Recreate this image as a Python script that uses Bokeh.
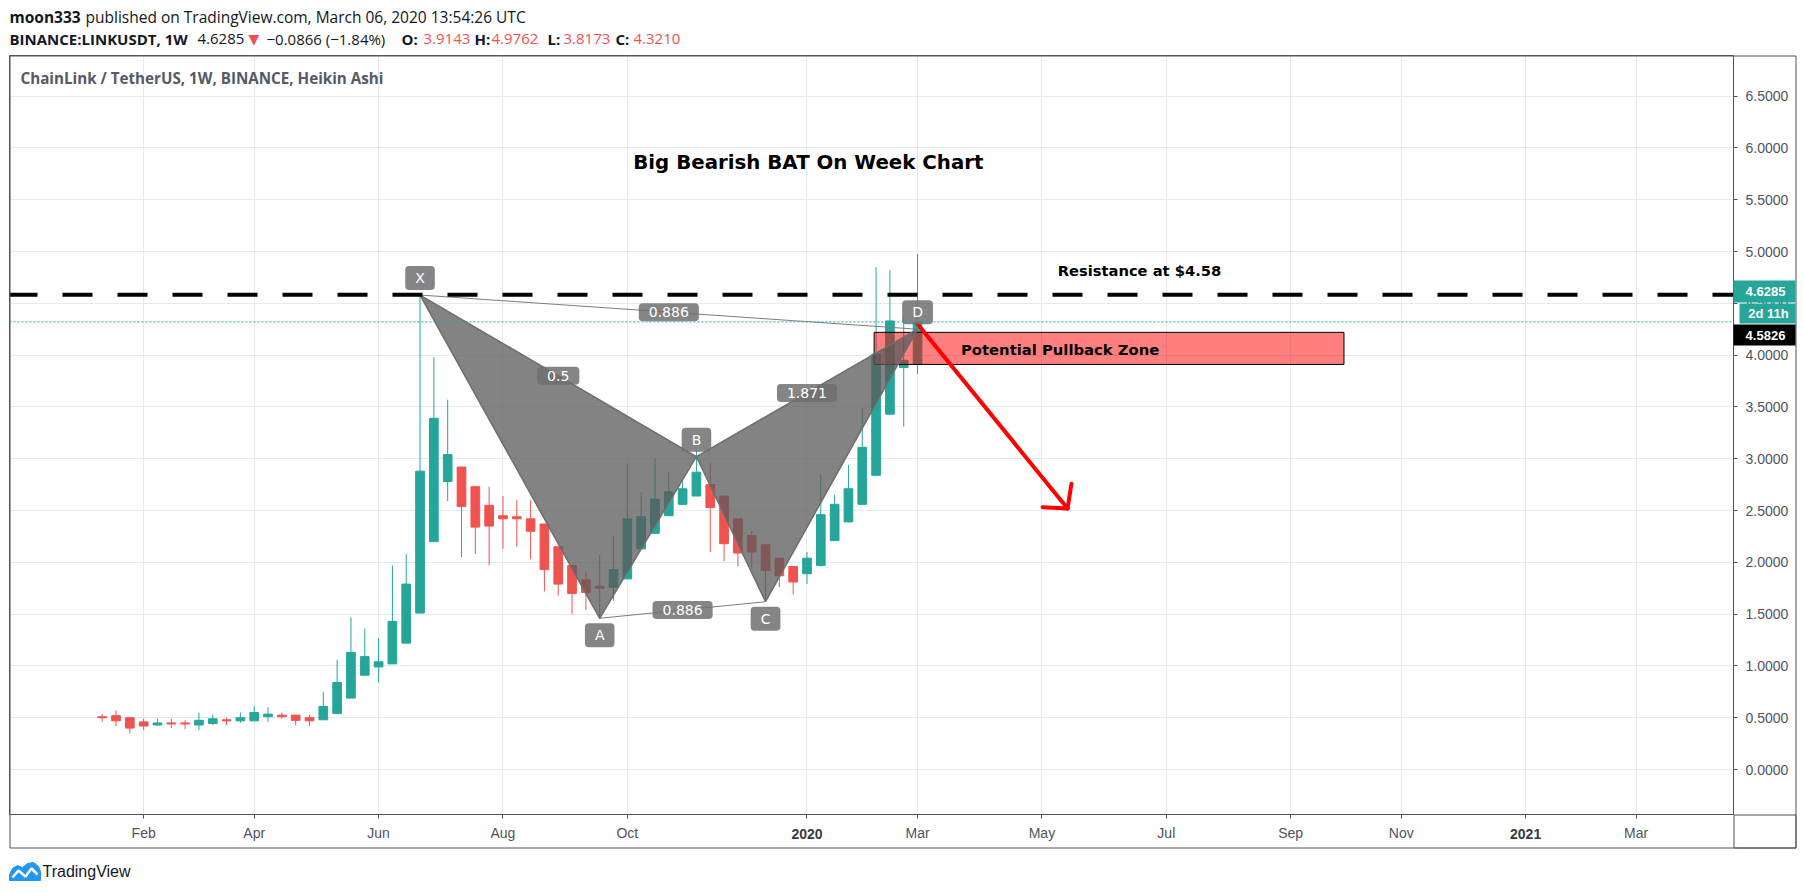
import math
import pandas as pd
from bokeh.plotting import figure
from bokeh.models import (ColumnDataSource, FixedTicker, PrintfTickFormatter,
                          Span, Label, Range1d)
from bokeh.embed import file_html
from bokeh.resources import INLINE

# ---------------- data ----------------
first_week = "2019-01-14"          # first weekly Heikin Ashi bar
n_weeks = 60

ha_open = [0.51, 0.52, 0.50, 0.46, 0.43, 0.45, 0.45, 0.43, 0.445, 0.48,
           0.47, 0.47, 0.51, 0.525, 0.525, 0.50, 0.48, 0.54, 0.69, 0.91,
           0.99, 1.02, 1.22, 1.51, 2.20, 2.78, 2.92, 2.73, 2.55, 2.45,
           2.44, 2.42, 2.37, 2.15, 1.97, 1.83, 1.77, 1.76, 1.84, 2.13,
           2.28, 2.45, 2.56, 2.64, 2.75, 2.64, 2.42, 2.26, 2.17, 2.04,
           1.96, 1.89, 1.97, 2.21, 2.39, 2.56, 2.84, 3.43, 3.88, 3.9143]
ha_high = [0.535, 0.57, 0.50, 0.49, 0.49, 0.49, 0.475, 0.55, 0.53, 0.50,
           0.55, 0.61, 0.60, 0.55, 0.53, 0.53, 0.75, 1.06, 1.47, 1.36,
           1.27, 1.97, 2.08, 4.58, 3.98, 3.57, 2.92, 2.73, 2.73, 2.64,
           2.60, 2.60, 2.37, 2.15, 1.97, 1.91, 2.07, 2.26, 2.95, 2.68,
           3.00, 2.87, 2.80, 3.08, 2.96, 2.64, 2.42, 2.30, 2.17, 2.04,
           1.96, 2.10, 2.85, 2.65, 2.94, 3.49, 4.85, 4.82, 4.37, 4.9762]
ha_low = [0.46, 0.42, 0.35, 0.38, 0.42, 0.40, 0.39, 0.38, 0.43, 0.43,
          0.45, 0.47, 0.46, 0.49, 0.43, 0.42, 0.48, 0.54, 0.69, 0.91,
          0.84, 1.02, 1.22, 1.51, 2.20, 2.59, 2.05, 2.08, 1.97, 2.13,
          2.15, 2.03, 1.72, 1.68, 1.50, 1.54, 1.46, 1.63, 1.84, 2.13,
          2.28, 2.45, 2.56, 2.64, 2.10, 2.01, 1.96, 1.95, 1.62, 1.76,
          1.69, 1.79, 1.96, 2.21, 2.39, 2.56, 2.84, 3.43, 3.31, 3.8173]
ha_close = [0.50, 0.47, 0.40, 0.42, 0.45, 0.44, 0.44, 0.475, 0.49, 0.47,
            0.50, 0.55, 0.535, 0.51, 0.475, 0.47, 0.61, 0.84, 1.13, 1.09,
            1.04, 1.43, 1.79, 2.88, 3.39, 3.04, 2.54, 2.34, 2.35, 2.42,
            2.42, 2.30, 1.93, 1.79, 1.70, 1.71, 1.75, 1.93, 2.42, 2.44,
            2.61, 2.68, 2.71, 2.87, 2.53, 2.18, 2.09, 2.10, 1.92, 1.87,
            1.81, 2.04, 2.46, 2.56, 2.71, 3.11, 4.01, 4.33, 3.95, 4.3210]

tick_dates = ["2019-02-04", "2019-04-01", "2019-06-03", "2019-08-05", "2019-10-07",
              "2020-01-06", "2020-03-02", "2020-05-04", "2020-07-06", "2020-09-07",
              "2020-11-02", "2021-01-04", "2021-03-01"]
tick_labels = ["Feb", "Apr", "Jun", "Aug", "Oct", "2020", "Mar", "May", "Jul",
               "Sep", "Nov", "2021", "Mar"]
year_labels = ["2020", "2021"]
price_ticks = [0.0, 0.5, 1.0, 1.5, 2.0, 2.5, 3.0, 3.5, 4.0, 4.5, 5.0, 5.5, 6.0, 6.5]

pattern_names = ["X", "A", "B", "C", "D"]
pattern_dates = ["2019-06-24", "2019-09-23", "2019-11-11", "2019-12-16", "2020-03-02"]
pattern_prices = [4.58, 1.46, 3.02, 1.62, 4.25]
pattern_label_side = [1, -1, 1, -1, 1]
ratio_pairs = [("X", "B"), ("B", "D"), ("X", "D"), ("A", "C")]
ratio_texts = ["0.5", "1.871", "0.886", "0.886"]

resistance_price = 4.5826
last_close = 4.3210
last_price_text = "4.6285"
countdown_text = "2d 11h"

zone_dates = ["2020-02-09", "2020-10-04"]
zone_prices = [3.91, 4.22]
arrow_dates = ["2020-03-02", "2020-05-17"]
arrow_prices = [4.30, 2.52]

title_text = "Big Bearish BAT On Week Chart"
title_at = ("2019-10-10", 5.86)
resist_text = "Resistance at $4.58"
resist_at = ("2020-05-12", 4.82)
zone_text = "Potential Pullback Zone"
zone_text_at = ("2020-03-24", 4.054)

header_user = "moon333"
header_rest = "published on TradingView.com, March 06, 2020 13:54:26 UTC"
header_line2 = [("BINANCE:LINKUSDT, 1W", "bold", "ink"), ("4.6285", "normal", "ink"),
                ("\u25bc", "normal", "red"), ("\u22120.0866 (\u22121.84%)", "normal", "ink"),
                ("O:", "bold", "ink"), ("3.9143", "normal", "red"),
                ("H:", "bold", "ink"), ("4.9762", "normal", "red"),
                ("L:", "bold", "ink"), ("3.8173", "normal", "red"),
                ("C:", "bold", "ink"), ("4.3210", "normal", "red")]
header_line2_x = [9, 197, 248, 266, 401, 423, 474, 491, 547, 563, 615, 633]
symbol_text = "ChainLink / TetherUS, 1W, BINANCE, Heikin Ashi"
brand_text = "TradingView"

# ---------------- styles / layout (page pixels) ----------------
TEAL = "#26a69a"
RED = "#ef5350"
INK = "#131722"
GRID = "#e3ebf1"
AXIS = "#50535e"
FL, FT = 9, 55              # frame left / top on the page
FW, FH = 1724, 759          # frame size
X_LO, X_HI = -46.95, 826.3
Y_LO, Y_HI = -0.434, 6.892
PAGE_W, PAGE_H = 1804, 894

t0 = pd.Timestamp(first_week)


def day(s):
    return (pd.Timestamp(s) - t0) / pd.Timedelta(days=1)


week_x = [7.0 * i for i in range(n_weeks)]
colors = [TEAL if c >= o else RED for o, c in zip(ha_open, ha_close)]
src = ColumnDataSource(dict(
    x=week_x, o=ha_open, h=ha_high, l=ha_low, c=ha_close,
    top=[max(o, c) for o, c in zip(ha_open, ha_close)],
    bottom=[min(o, c) for o, c in zip(ha_open, ha_close)],
    color=colors))

p = figure(frame_width=FW, frame_height=FH,
           x_range=Range1d(X_LO, X_HI), y_range=Range1d(Y_LO, Y_HI),
           output_backend="svg", toolbar_location=None, y_axis_location="right",
           min_border_left=FL, min_border_right=62, min_border_top=FT, min_border_bottom=33,
           background_fill_color="white", border_fill_color="white",
           outline_line_color=AXIS, outline_line_width=1)

# axes
tick_x = [day(d) for d in tick_dates]
xa = p.xaxis[0]
xa.ticker = FixedTicker(ticks=tick_x, minor_ticks=[])
xa.major_label_overrides = {t: ("" if lab in year_labels else lab)
                            for t, lab in zip(tick_x, tick_labels)}
xa.major_tick_out = 4
xa.major_tick_in = 0
xa.minor_tick_out = 0
xa.minor_tick_in = 0
xa.axis_line_color = AXIS
xa.major_tick_line_color = AXIS
xa.major_label_text_font = "Liberation Sans"
xa.major_label_text_font_size = "14px"
xa.major_label_text_color = AXIS
xa.major_label_standoff = 6

ya = p.yaxis[0]
ya.ticker = FixedTicker(ticks=price_ticks, minor_ticks=[])
ya.formatter = PrintfTickFormatter(format="%.4f")
ya.major_tick_out = 4
ya.major_tick_in = 0
ya.minor_tick_out = 0
ya.minor_tick_in = 0
ya.axis_line_color = AXIS
ya.major_tick_line_color = AXIS
ya.major_label_text_font = "Liberation Sans"
ya.major_label_text_font_size = "14px"
ya.major_label_text_color = AXIS
ya.major_label_standoff = 8

p.xgrid.grid_line_color = GRID
p.ygrid.grid_line_color = GRID

# candles
p.segment(x0="x", y0="l", x1="x", y1="h", source=src, line_color="color", line_width=1)
p.vbar(x="x", width=4.4, top="top", bottom="bottom", source=src,
       fill_color="color", line_color="color", line_width=1)

# pullback zone
p.quad(left=[day(zone_dates[0])], right=[day(zone_dates[1])],
       bottom=[zone_prices[0]], top=[zone_prices[1]],
       fill_color="#ff0000", fill_alpha=0.5, line_color="#000000", line_width=1)

# XABCD pattern
pt = {n: (day(d), v) for n, d, v in zip(pattern_names, pattern_dates, pattern_prices)}
for tri in (("X", "A", "B"), ("B", "C", "D")):
    p.patch([pt[n][0] for n in tri], [pt[n][1] for n in tri],
            fill_color="#5a5a5a", fill_alpha=0.75, line_color="#6e6e6e", line_width=1.5)
for a, b in (("X", "D"), ("A", "C")):
    p.line([pt[a][0], pt[b][0]], [pt[a][1], pt[b][1]], line_color="#7d7d7d", line_width=1)

label_style = dict(text_font="DejaVu Sans", text_font_size="14px", text_color="white",
                   text_align="center", text_baseline="middle",
                   background_fill_color="#707070", background_fill_alpha=0.85,
                   padding=(10, 4), border_radius=4)
for n, side in zip(pattern_names, pattern_label_side):
    p.add_layout(Label(x=pt[n][0], y=pt[n][1], y_offset=17 * side, text=n, **label_style))
for (a, b), txt in zip(ratio_pairs, ratio_texts):
    p.add_layout(Label(x=(pt[a][0] + pt[b][0]) / 2, y=(pt[a][1] + pt[b][1]) / 2,
                       text=txt, **label_style))

# horizontal lines
p.add_layout(Span(location=last_close, dimension="width", line_color=TEAL,
                  line_width=1, line_dash="2 2"))
p.add_layout(Span(location=resistance_price, dimension="width", line_color="black",
                  line_width=4, line_dash="30 25", line_dash_offset=2))

# red arrow
ppx = FW / (X_HI - X_LO)
ppy = FH / (Y_HI - Y_LO)
ax0, ax1 = day(arrow_dates[0]), day(arrow_dates[1])
ay0, ay1 = arrow_prices
ang = math.atan2((ay1 - ay0) * ppy, (ax1 - ax0) * ppx)
sx0, sy0, sx1, sy1 = [ax0], [ay0], [ax1], [ay1]
for s in (1, -1):
    a = ang + math.pi + s * math.radians(48)
    sx0.append(ax1)
    sy0.append(ay1)
    sx1.append(ax1 + 25 * math.cos(a) / ppx)
    sy1.append(ay1 + 25 * math.sin(a) / ppy)
p.segment(x0=sx0, y0=sy0, x1=sx1, y1=sy1, line_color="#ff0000", line_width=4,
          line_cap="round")

# chart texts
p.add_layout(Label(x=day(title_at[0]), y=title_at[1], text=title_text,
                   text_font="DejaVu Sans", text_font_style="bold", text_font_size="19.8px",
                   text_color="#000000", text_baseline="middle"))
p.add_layout(Label(x=day(resist_at[0]), y=resist_at[1], text=resist_text,
                   text_font="DejaVu Sans", text_font_style="bold", text_font_size="14.7px",
                   text_color="#000000", text_baseline="middle"))
p.add_layout(Label(x=day(zone_text_at[0]), y=zone_text_at[1], text=zone_text,
                   text_font="DejaVu Sans", text_font_style="bold", text_font_size="14.8px",
                   text_color="#000000", text_baseline="middle"))
p.add_layout(Label(x=20 - FL, y=FH - (77 - FT), x_units="screen", y_units="screen",
                   text=symbol_text, text_font="Open Sans", text_font_size="15.2px",
                   text_font_style="bold", text_color="#555a66", text_baseline="middle"))

# ---------- transparent overlay figure for everything outside the frame ----------
ov = figure(width=PAGE_W, height=PAGE_H, x_range=Range1d(0, PAGE_W), y_range=Range1d(PAGE_H, 0),
            output_backend="svg", toolbar_location=None, x_axis_location=None,
            y_axis_location=None, min_border=0, outline_line_color=None,
            background_fill_alpha=0, border_fill_alpha=0)
ov.title.visible = False
ov.grid.visible = False
ov.styles = {"position": "absolute", "left": "0px", "top": "0px", "z-index": "10",
             "pointer-events": "none"}


def put(px, py, text, **kw):
    kw.setdefault("text_baseline", "middle")
    ov.add_layout(Label(x=px, y=py, text=text, **kw))


put(9, 16, header_user, text_font="Open Sans", text_font_size="15.5px",
    text_font_style="bold", text_color=INK)
put(85, 16, header_rest, text_font="Open Sans", text_font_size="15.5px", text_color=INK)
for px, (txt, style, col) in zip(header_line2_x, header_line2):
    if txt == "\u25bc":
        put(px, 38, txt, text_font="DejaVu Sans", text_font_size="14px", text_color=RED)
    else:
        put(px, 38, txt, text_font="Open Sans", text_font_size="15px", text_font_style=style,
            text_color=(RED if col == "red" else INK))

# outer box and the corner cell below the price scale
ov.quad(left=[FL + 0.5, FL + FW + 0.5], right=[1795.5, 1795.5],
        top=[FT + 0.5, FT + FH + 0.5], bottom=[847.5, 847.5],
        fill_alpha=0, line_color=AXIS, line_width=1)

# bold year labels on the time axis
for t, lab in zip(tick_x, tick_labels):
    if lab in year_labels:
        put(FL + (t - X_LO) * ppx, 833, lab, text_align="center", text_font="Liberation Sans",
            text_font_size="14px", text_font_style="bold", text_color="#363a45")

# price tags on the price scale
tags = [(last_price_text, TEAL, 1733, 280, 302),
        (countdown_text, TEAL, 1739, 303, 323),
        (f"{resistance_price:.4f}", "#000000", 1733, 324, 345)]
for txt, col, lft, top, bot in tags:
    ov.quad(left=[lft], right=[1795], top=[top], bottom=[bot], fill_color=col, line_color=None)
    put((lft + 1795) / 2 + 1, (top + bot) / 2, txt, text_align="center",
        text_font="Liberation Sans", text_font_size="13px", text_font_style="bold",
        text_color="white")

# TradingView footer logo and name
ov.patch([9, 9, 12, 17, 22, 27, 33, 38, 40, 40], [880, 874, 868, 865, 867, 863, 862, 866, 871, 880],
         fill_color="#2196f3", line_color="#2196f3", line_width=1)
ov.line([12, 18, 25, 31, 37], [877, 870, 876, 868, 874], line_color="white", line_width=2.5)
put(42, 871, brand_text, text_font="Liberation Sans", text_font_size="16px", text_color=INK)

open("out.html", "w").write(file_html([p, ov], INLINE))
